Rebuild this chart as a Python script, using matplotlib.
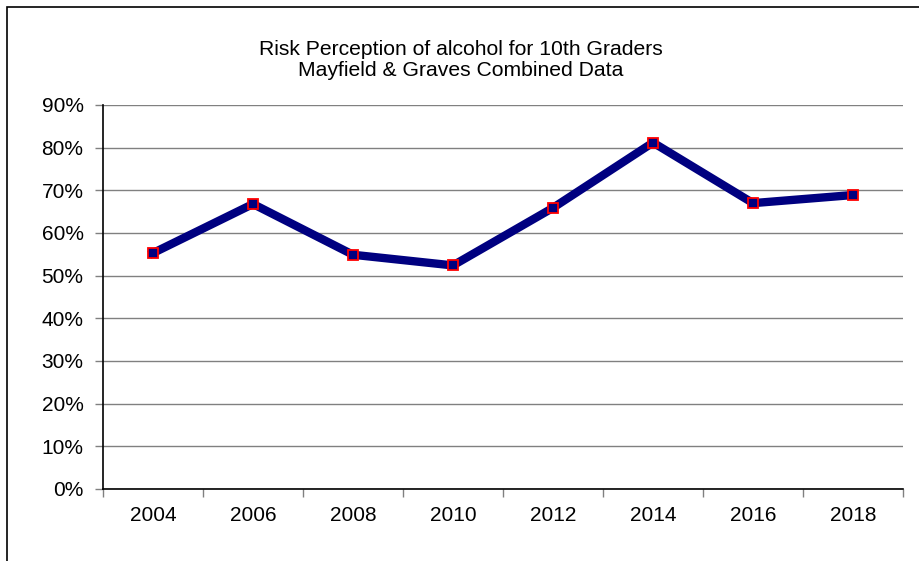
import matplotlib
matplotlib.use("Agg")
import matplotlib.pyplot as plt
from matplotlib.patches import Rectangle
from matplotlib.ticker import FixedLocator, PercentFormatter

years = ["2004", "2006", "2008", "2010", "2012", "2014", "2016", "2018"]
values = [55.3, 66.8, 54.9, 52.4, 65.9, 81.2, 67.0, 68.9]
yticks = [0, 10, 20, 30, 40, 50, 60, 70, 80, 90]
title = "Risk Perception of alcohol for 10th Graders\nMayfield & Graves Combined Data"

plt.rcParams['font.family'] = ['Liberation Sans', 'DejaVu Sans']

W, H = 919, 561
fig = plt.figure(figsize=(W / 100, H / 100), dpi=100)
fig.patches.append(Rectangle((7 / W, -0.1), 1.2, 1 - 7 / H + 0.1, transform=fig.transFigure,
                             fill=False, edgecolor='black', linewidth=1.2))

ax = fig.add_axes([103 / W, (H - 489) / H, 800 / W, 384 / H])
x = list(range(len(years)))
ax.plot(x, values, color='#000080', linewidth=6, solid_joinstyle='miter', zorder=3)
ax.plot(x, values, linestyle='none', marker='s', markersize=6.5, markerfacecolor='#000080',
        markeredgecolor='#ff0000', markeredgewidth=1.3, zorder=4)

ax.set_xlim(-0.5, len(years) - 0.5)
ax.set_ylim(0, 90)
ax.set_yticks(yticks)
ax.yaxis.set_major_formatter(PercentFormatter(decimals=0))
ax.set_xticks(x)
ax.set_xticklabels(years)
ax.xaxis.set_major_locator(FixedLocator(x))
ax.set_xticks([i - 0.5 for i in range(len(years) + 1)], minor=True)
ax.tick_params(axis='x', which='major', length=0, pad=12, labelsize=15)
ax.tick_params(axis='x', which='minor', length=6, color='#808080', width=1)
ax.tick_params(axis='y', length=6, color='#808080', width=1, labelsize=15, pad=8)
ax.grid(axis='y', color='#808080', linewidth=1)
ax.set_axisbelow(True)
for s in ['top', 'right']:
    ax.spines[s].set_visible(False)
for s in ['left', 'bottom']:
    ax.spines[s].set_color('black')
    ax.spines[s].set_linewidth(1.2)

fig.text(460.5 / W, 1 - 60 / H, title, ha='center', va='center', fontsize=15.2, linespacing=1.1)

fig.savefig("out.png", dpi=100)
